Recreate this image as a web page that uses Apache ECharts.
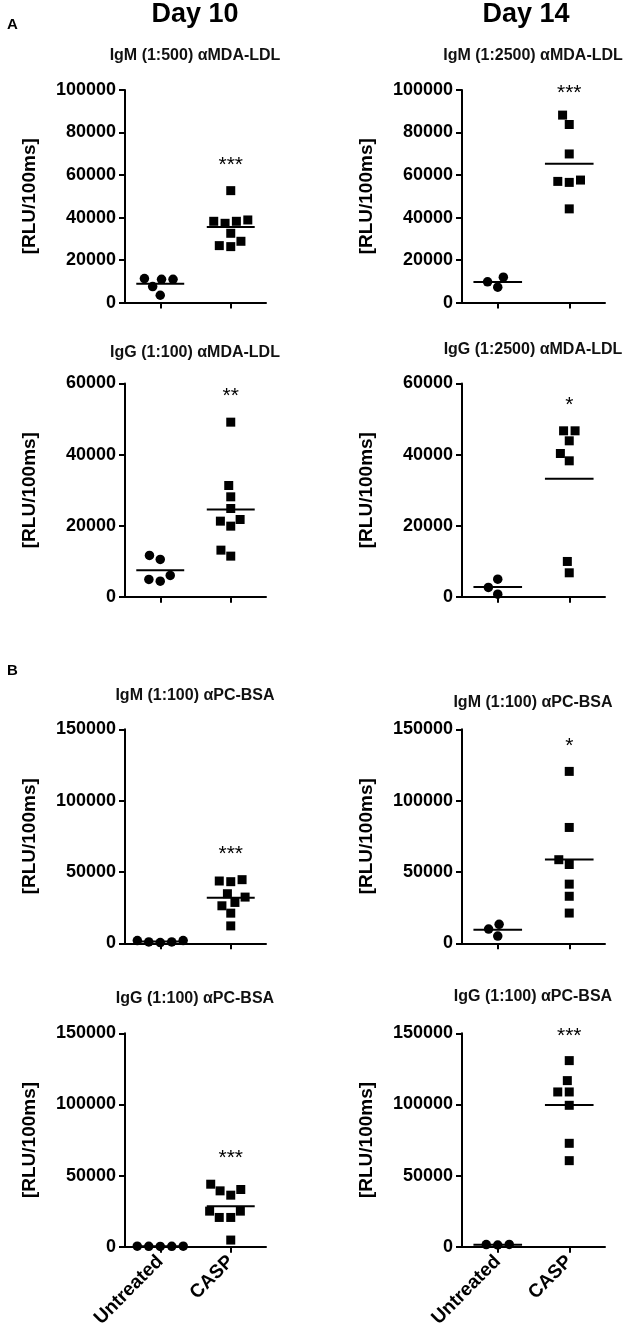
<!DOCTYPE html>
<html><head><meta charset="utf-8">
<script src="https://cdn.jsdelivr.net/npm/echarts@6/dist/echarts.min.js"></script>
<style>html,body{margin:0;padding:0;background:#fff}#c{width:635px;height:1339px}</style>
</head><body><div id="c"></div>
<script>
// ---------- data ----------
const groups = ['Untreated', 'CASP'];
const dayTitles = ['Day 10', 'Day 14'];
const sectionLabels = ['A', 'B'];
const yAxisTitle = '[RLU/100ms]';
const panelTitles = [
  'IgM (1:500) αMDA-LDL', 'IgM (1:2500) αMDA-LDL',
  'IgG (1:100) αMDA-LDL', 'IgG (1:2500) αMDA-LDL',
  'IgM (1:100) αPC-BSA', 'IgM (1:100) αPC-BSA',
  'IgG (1:100) αPC-BSA', 'IgG (1:100) αPC-BSA'
];
const significance = ['***', '***', '**', '*', '***', '*', '***', '***'];
const yMax = [100000, 100000, 60000, 60000, 150000, 150000, 150000, 150000];
const yStep = [20000, 20000, 20000, 20000, 50000, 50000, 50000, 50000];
const untreatedValues = [
  [10970, 10970, 11290, 7520, 3450],
  [11970, 7240, 9760],
  [11625, 10500, 6000, 4400, 4875],
  [4970, 2625, 750],
  [1900, 950, 500, 950, 1900],
  [13290, 5100, 10000],
  [400, 300, 200, 300, 400],
  [1500, 1200, 1600]
];
const caspValues = [
  [52660, 38240, 38870, 38240, 37300, 32600, 28840, 26330, 26800],
  [88190, 83780, 69920, 57010, 56540, 57640, 44090],
  [49125, 31310, 28125, 24840, 21280, 21750, 19875, 13125, 11440],
  [46690, 46690, 43875, 40310, 38250, 9940, 6750],
  [44600, 43190, 43660, 34740, 32390, 28640, 26290, 21130, 12200],
  [120490, 81200, 58600, 55240, 41470, 32970, 21200],
  [43930, 40190, 39250, 36220, 25000, 25000, 20560, 20560, 4670],
  [130800, 116740, 108770, 108770, 99390, 72670, 60480]
];

// ---------- layout ----------
const FONT = "'Liberation Sans', Arial, sans-serif";
const colLeft = [125, 462];
const colWidth = [141, 143];
const rowTop = [90, 383.5, 729.3, 1033.3];
const rowHeight = [212.6, 213.3, 214, 213.4];
const subtitleX = [195, 533];
const subtitleY = [56, 56, 353, 350, 696, 703, 999, 997];
const GAP = 11.5;        // beeswarm collision distance (px)
const MEAN_HALF = 0.34;  // half width of mean bar (x units)
const STAR_GAP = 0.12;   // star offset above highest point (fraction of axis range)
const STAR_CAP = 0.985;  // stars never above this fraction of axis range

function swarm(values, pxPerVal, pxPerX) {
  const order = values.map((v, i) => i).sort((a, b) => values[a] - values[b]);
  const placed = [];
  const out = new Array(values.length);
  order.forEach(i => {
    const y = values[i] * pxPerVal;
    const cands = [0];
    placed.forEach(p => {
      const dy = Math.abs(p.y - y);
      if (dy < GAP) {
        const dx = Math.sqrt(GAP * GAP - dy * dy);
        cands.push(p.x + dx, p.x - dx);
      }
    });
    cands.sort((a, b) => Math.abs(a) - Math.abs(b) || a - b);
    const x = cands.find(c => placed.every(p => Math.hypot(p.x - c, p.y - y) >= GAP - 1e-6));
    placed.push({ x, y });
    out[i] = x / pxPerX;
  });
  return out;
}
const mean = a => a.reduce((s, v) => s + v, 0) / a.length;

const grid = [], xAxis = [], yAxis = [], series = [], graphic = [];
const black = '#000';

for (let p = 0; p < 8; p++) {
  const row = Math.floor(p / 2), col = p % 2;
  const w = colWidth[col], h = rowHeight[row];
  grid.push({ left: colLeft[col], top: rowTop[row], width: w, height: h });
  xAxis.push({
    gridIndex: p, type: 'value', min: 0.5, max: 2.5,
    axisLine: { show: true, lineStyle: { color: black, width: 2 } },
    axisTick: { show: true, customValues: [1, 2], length: 6, lineStyle: { color: black, width: 2 } },
    axisLabel: {
      show: row === 3, customValues: [1, 2], rotate: 45, margin: 12,
      formatter: v => groups[Math.round(v) - 1] || '',
      fontSize: 19, fontWeight: 'bold', fontFamily: FONT, color: black
    },
    splitLine: { show: false }
  });
  yAxis.push({
    gridIndex: p, type: 'value', min: 0, max: yMax[p], interval: yStep[p],
    axisLine: { show: true, lineStyle: { color: black, width: 2 } },
    axisTick: { show: true, length: 6, lineStyle: { color: black, width: 2 } },
    axisLabel: { margin: 9, fontSize: 18, fontWeight: 'bold', fontFamily: FONT, color: black, formatter: v => String(v) },
    splitLine: { show: false },
    name: yAxisTitle, nameLocation: 'middle', nameGap: 86,
    nameTextStyle: { fontSize: 19, fontWeight: 'bold', fontFamily: FONT, color: black }
  });
  const pxPerVal = h / yMax[p], pxPerX = w / 2;
  const u = untreatedValues[p], c = caspValues[p];
  const uo = swarm(u, pxPerVal, pxPerX), co = swarm(c, pxPerVal, pxPerX);
  const mu = mean(u), mc = mean(c);
  series.push({
    type: 'line', xAxisIndex: p, yAxisIndex: p, symbol: 'none', silent: true,
    lineStyle: { color: black, width: 2 }, data: [[1 - MEAN_HALF, mu], [1 + MEAN_HALF, mu]]
  });
  series.push({
    type: 'line', xAxisIndex: p, yAxisIndex: p, symbol: 'none', silent: true,
    lineStyle: { color: black, width: 2 }, data: [[2 - MEAN_HALF, mc], [2 + MEAN_HALF, mc]]
  });
  series.push({
    type: 'scatter', xAxisIndex: p, yAxisIndex: p, symbol: 'circle', symbolSize: 9.5,
    itemStyle: { color: black, opacity: 1 }, data: u.map((v, i) => [1 + uo[i], v])
  });
  series.push({
    type: 'scatter', xAxisIndex: p, yAxisIndex: p, symbol: 'rect', symbolSize: 9,
    itemStyle: { color: black, opacity: 1 }, data: c.map((v, i) => [2 + co[i], v])
  });
  const maxC = Math.max(...c);
  series.push({
    type: 'scatter', xAxisIndex: p, yAxisIndex: p, symbolSize: 10, silent: true, clip: false,
    itemStyle: { color: 'transparent', opacity: 1 },
    label: { show: true, position: 'inside', formatter: significance[p], fontSize: 21, fontFamily: FONT, color: black },
    data: [[2, Math.min(maxC + STAR_GAP * yMax[p], STAR_CAP * yMax[p])]]
  });
  graphic.push({
    type: 'text', x: subtitleX[col], y: subtitleY[p],
    style: { text: panelTitles[p], font: 'bold 16px ' + FONT, fill: '#111', textAlign: 'center', textVerticalAlign: 'middle' }
  });
}
graphic.push({ type: 'text', x: 195, y: 15, style: { text: dayTitles[0], font: 'bold 27px ' + FONT, fill: black, textAlign: 'center', textVerticalAlign: 'middle' } });
graphic.push({ type: 'text', x: 526, y: 15, style: { text: dayTitles[1], font: 'bold 27px ' + FONT, fill: black, textAlign: 'center', textVerticalAlign: 'middle' } });
graphic.push({ type: 'text', x: 7, y: 25, style: { text: sectionLabels[0], font: 'bold 15px ' + FONT, fill: black, textAlign: 'left', textVerticalAlign: 'middle' } });
graphic.push({ type: 'text', x: 7, y: 671, style: { text: sectionLabels[1], font: 'bold 15px ' + FONT, fill: black, textAlign: 'left', textVerticalAlign: 'middle' } });

const chart = echarts.init(document.getElementById('c'));
chart.setOption({ animation: false, backgroundColor: '#fff', grid, xAxis, yAxis, series, graphic });
</script>
</body></html>
